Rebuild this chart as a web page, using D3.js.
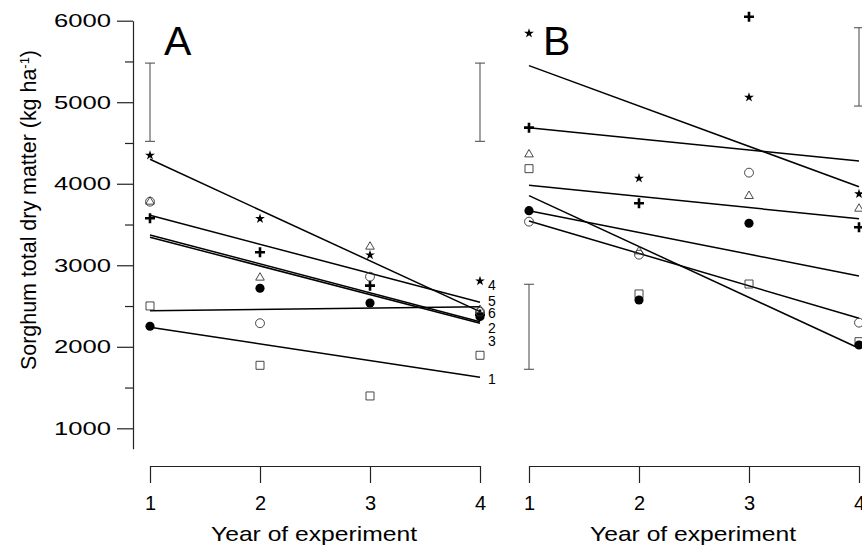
<html>
<head>
  <title>Sorghum total dry matter</title>
  <script src="https://d3js.org/d3.v7.min.js"></script>
  <style>
    body { margin: 0; background: #fff; }
    text { font-family: "Liberation Sans", Arial, sans-serif; fill: #000; }
  </style>
</head>
<body>
  <div id="chart"></div>

  <script type="text/javascript">

    // years on the x axis
    var years = [1, 2, 3, 4];

    // panel A, one array per treatment symbol (kg/ha, years 1-4)
    var aFilledCircle = [2252, 2718, 2537, 2370];
    var aOpenCircle   = [3780, 2289, 2860, 2430];
    var aTriangle     = [3780, 2848, 3228, 2452];
    var aSquare       = [2501, 1773, 1397, 1896];
    var aPlus         = [3576, 3159, 2750, 2395];
    var aStar         = [4349, 3571, 3126, 2807];

    // panel B
    var bFilledCircle = [3670, 2574, 3515, 2022];
    var bOpenCircle   = [3535, 3130, 4136, 2296];
    var bTriangle     = [4360, 3170, 3850, 3694];
    var bSquare       = [4185, 2648, 2770, 2063];
    var bPlus         = [4688, 3760, 6049, 3466];
    var bStar         = [5845, 4067, 5060, 3875];

    // fitted lines: value at year 1 and at year 4
    var aLineNames = ["1", "2", "3", "4", "5", "6"];
    var aLineStart = [2239, 3344, 3372, 4300, 3613, 2443];
    var aLineEnd   = [1626, 2288, 2308, 2431, 2546, 2492];
    var aLabelAt   = [1609, 2231, 2072, 2758, 2562, 2415];

    var bLineStart = [5449, 4688, 3981, 3854, 3670, 3543];
    var bLineEnd   = [3964, 4279, 3571, 1982, 2869, 2350];

    // error bars
    var aErrYears = [1, 4];
    var aErrLow   = [4520, 4520];
    var aErrHigh  = [5480, 5480];
    var bErrYears = [1, 4];
    var bErrLow   = [1724, 4953];
    var bErrHigh  = [2767, 5914];

    var yMajorTicks = [1000, 2000, 3000, 4000, 5000, 6000];
    var yMinorTicks = [1500, 2500, 3500, 4500, 5500];

    var width = 862, height = 547;

    var svg = d3.select("#chart")
                .append("svg")
                  .attr("width", width)
                  .attr("height", height);

    var y = d3.scaleLinear().domain([750, 6000]).range([448.7, 20.7]);
    var xA = d3.scaleLinear().domain([1, 4]).range([150, 480]);
    var xB = d3.scaleLinear().domain([1, 4]).range([529, 859]);

    var axisY = 466;

    // ---- y axis ----
    var yAxis = svg.append("g")
        .attr("transform", "translate(133,0)")
        .call(d3.axisLeft(y).tickValues(yMajorTicks).tickSize(16).tickSizeOuter(0).tickPadding(6).tickFormat(d3.format("d")));

    yAxis.selectAll("text")
        .attr("font-size", 19)
        .attr("textLength", 57)
        .attr("lengthAdjust", "spacingAndGlyphs")
        .attr("font-family", null);

    svg.append("g")
        .attr("transform", "translate(133,0)")
        .call(d3.axisLeft(y).tickValues(yMinorTicks).tickSize(8).tickFormat(""))
        .select(".domain").remove();

    svg.selectAll(".domain, .tick line")
        .attr("stroke", "#222")
        .attr("stroke-width", 1.2);

    svg.append("text")
        .attr("transform", "translate(36,210) rotate(-90)")
        .attr("text-anchor", "middle")
        .attr("font-size", 21.5)
        .attr("textLength", 320)
        .attr("lengthAdjust", "spacingAndGlyphs")
        .text("Sorghum total dry matter (kg ha")
        .append("tspan")
          .attr("baseline-shift", "super")
          .attr("font-size", 13)
          .text("-1")
        .select(function() { return this.parentNode; })
        .append("tspan")
          .text(")");

    // ---- panels ----
    function drawPanel(x, letter, letterX, series, lineStart, lineEnd, errYears, errLow, errHigh) {

      var g = svg.append("g");

      var xAxis = g.append("g")
          .attr("transform", "translate(0," + axisY + ")")
          .call(d3.axisBottom(x).tickValues(years).tickSize(17).tickSizeOuter(0).tickPadding(13).tickFormat(d3.format("d")));

      xAxis.selectAll(".domain, .tick line")
          .attr("stroke", "#222")
          .attr("stroke-width", 1.2);
      xAxis.selectAll("text")
          .attr("font-size", 20)
          .attr("font-family", null);

      g.append("text")
          .attr("x", (x.range()[0] + x.range()[1]) / 2 - 1)
          .attr("y", 541)
          .attr("text-anchor", "middle")
          .attr("font-size", 21)
          .attr("textLength", 206)
          .attr("lengthAdjust", "spacingAndGlyphs")
          .text("Year of experiment");

      g.append("text")
          .attr("x", letterX)
          .attr("y", 55)
          .attr("font-size", 41)
          .text(letter);

      // error bars
      errYears.forEach(function(yr, i) {
        var cx = x(yr);
        var eb = g.append("g")
            .attr("stroke", "#555")
            .attr("stroke-width", 1.1);
        eb.append("line").attr("x1", cx).attr("x2", cx).attr("y1", y(errLow[i])).attr("y2", y(errHigh[i]));
        eb.append("line").attr("x1", cx - 5).attr("x2", cx + 5).attr("y1", y(errLow[i])).attr("y2", y(errLow[i]));
        eb.append("line").attr("x1", cx - 5).attr("x2", cx + 5).attr("y1", y(errHigh[i])).attr("y2", y(errHigh[i]));
      });

      // fitted lines
      g.selectAll(".fit")
          .data(lineStart)
          .enter()
          .append("line")
          .attr("class", "fit")
          .attr("x1", x(1))
          .attr("x2", x(4))
          .attr("y1", function(d) { return y(d); })
          .attr("y2", function(d, i) { return y(lineEnd[i]); })
          .attr("stroke", "#000")
          .attr("stroke-width", 1.5);

      // points
      series.forEach(function(s) {
        var pts = g.selectAll(null)
            .data(s.values)
            .enter()
            .append("path")
            .attr("transform", function(d, i) {
              return "translate(" + x(years[i]) + "," + y(d) + ")";
            });

        if (s.kind === "plus") {
          pts.attr("d", "M-5,0H5M0,-5V5")
             .attr("stroke", "#000")
             .attr("stroke-width", 2.6)
             .attr("fill", "none");
        } else {
          pts.attr("d", d3.symbol().type(s.type).size(s.size))
             .attr("fill", s.filled ? "#000" : "none")
             .attr("stroke", s.filled ? "none" : "#333")
             .attr("stroke-width", 0.9);
        }
      });

      return g;
    }

    function makeSeries(filledCircle, openCircle, triangle, square, plus, star) {
      return [
        {kind: "sym", type: d3.symbolSquare, size: 64, filled: false, values: square},
        {kind: "plus", values: plus},
        {kind: "sym", type: d3.symbolCircle, size: 66, filled: true, values: filledCircle},
        {kind: "sym", type: d3.symbolCircle, size: 62, filled: false, values: openCircle},
        {kind: "sym", type: d3.symbolTriangle, size: 32, filled: false, values: triangle},
        {kind: "sym", type: d3.symbolStar, size: 30, filled: true, values: star}
      ];
    }

    var panelA = drawPanel(xA, "A", 164,
        makeSeries(aFilledCircle, aOpenCircle, aTriangle, aSquare, aPlus, aStar),
        aLineStart, aLineEnd, aErrYears, aErrLow, aErrHigh);

    drawPanel(xB, "B", 543,
        makeSeries(bFilledCircle, bOpenCircle, bTriangle, bSquare, bPlus, bStar),
        bLineStart, bLineEnd, bErrYears, bErrLow, bErrHigh);

    // line numbers at the right of panel A
    panelA.selectAll(".lineLabel")
        .data(aLineNames)
        .enter()
        .append("text")
        .attr("class", "lineLabel")
        .attr("x", 488)
        .attr("y", function(d, i) { return y(aLabelAt[i]); })
        .attr("dy", "0.36em")
        .attr("font-size", 14)
        .text(function(d) { return d; });

  </script>
</body>
</html>
